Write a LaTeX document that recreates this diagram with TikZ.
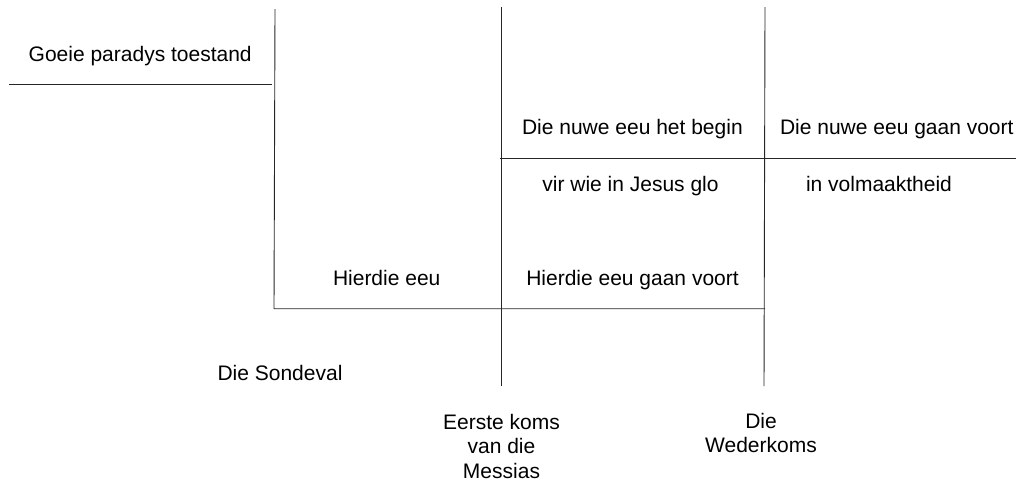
\documentclass[tikz,border=0pt]{standalone}
\usepackage{fontspec}
\setmainfont{Liberation Sans}
\begin{document}
\begin{tikzpicture}[x=1pt,y=-1pt,
  lbl/.style={inner sep=0pt,anchor=base,font=\fontsize{21}{24.5}\selectfont,align=center},
  frame/.style={line width=0.9pt,draw=black!85}]
\useasboundingbox (0,0) rectangle (1016,483);
% frame coordinates
\coordinate (tlL) at (9,84.7);
\coordinate (tlR) at (272,84.7);
\coordinate (v1T) at (275,9);
\coordinate (v1B) at (274,308.7);
\coordinate (bR) at (765,308.7);
\coordinate (v2T) at (501,7);
\coordinate (v2B) at (501,386);
\coordinate (v3T) at (765,7);
\coordinate (v3B) at (764,386);
\coordinate (hL) at (500,158.3);
\coordinate (hR) at (1016,158.3);
\draw[frame] (tlL) -- (tlR);
\draw[frame] (v1T) -- (v1B) -- (bR);
\draw[frame] (v2T) -- (v2B);
\draw[frame] (v3T) -- (v3B);
\draw[frame] (hL) -- (hR);
% labels
\node[lbl] (paradys) at (140.2,61.5) {Goeie paradys toestand};
\node[lbl] (hierdie) at (386.7,285.7) {Hierdie eeu};
\node[lbl] (nuwebegin) at (632.4,134) {Die nuwe eeu het begin};
\node[lbl] (nuwevoort) at (896.8,134) {Die nuwe eeu gaan voort};
\node[lbl] (jesus) at (630.5,191) {vir wie in Jesus glo};
\node[lbl] (volmaak) at (879,191) {in volmaaktheid};
\node[lbl] (hierdievoort) at (632.5,285.7) {Hierdie eeu gaan voort};
\node[lbl] (sondeval) at (280,380) {Die Sondeval};
\node[lbl] (eerste) at (501.5,478.3) {Eerste koms\\van die\\Messias};
\node[lbl] (weder) at (761,452.7) {Die\\Wederkoms};
\end{tikzpicture}
\end{document}
